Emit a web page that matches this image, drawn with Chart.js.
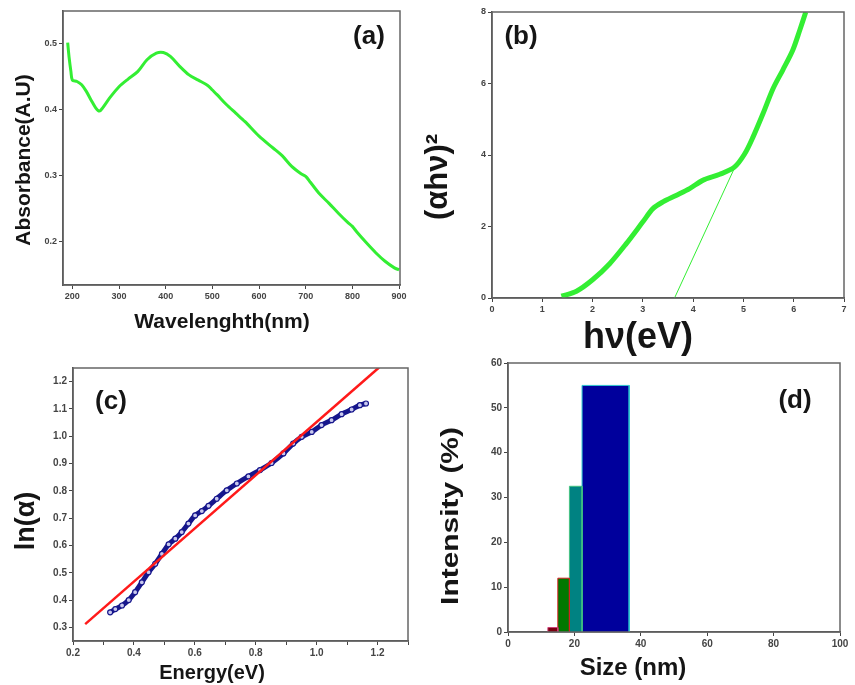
<!DOCTYPE html>
<html>
<head>
<meta charset="utf-8">
<script src="https://cdn.jsdelivr.net/npm/chart.js@4.4.1/dist/chart.umd.min.js"></script>
<style>
  body { margin: 0; background: #fff; }
  #wrap { position: relative; width: 855px; height: 685px; }
  #wrap canvas { position: absolute; left: 0; top: 0; }
</style>
</head>
<body>
<div id="wrap">
  <canvas id="chartA" width="855" height="685"></canvas>
  <canvas id="chartB" width="855" height="685"></canvas>
  <canvas id="chartC" width="855" height="685"></canvas>
  <canvas id="chartD" width="855" height="685"></canvas>
</div>
<script>
// (a) absorbance spectrum
const wavelength = [190, 193, 197, 200, 210, 220, 230, 240, 250, 258, 265, 280, 300, 320, 340, 360, 380, 395, 410, 430, 450, 470, 490, 500, 510, 530, 550, 570, 600, 630, 650, 670, 690, 700, 710, 730, 750, 770, 790, 800, 810, 830, 850, 870, 890, 900];
const absorbance = [0.502, 0.48, 0.458, 0.445, 0.443, 0.438, 0.428, 0.415, 0.403, 0.398, 0.403, 0.418, 0.435, 0.447, 0.458, 0.476, 0.486, 0.487, 0.481, 0.466, 0.453, 0.445, 0.437, 0.43, 0.423, 0.408, 0.395, 0.382, 0.36, 0.342, 0.33, 0.314, 0.303, 0.299, 0.29, 0.272, 0.258, 0.243, 0.229, 0.223, 0.214, 0.198, 0.183, 0.17, 0.16, 0.157];
const aXTicks = [200, 300, 400, 500, 600, 700, 800, 900];
const aYTicks = [0.2, 0.3, 0.4, 0.5];

// (b) Tauc plot
const photonE = [1.38, 1.68, 2.0, 2.34, 2.67, 3.0, 3.2, 3.4, 3.66, 3.93, 4.19, 4.53, 4.82, 5.02, 5.19, 5.39, 5.59, 5.78, 5.98, 6.12, 6.24];
const tauc = [0.05, 0.19, 0.51, 0.96, 1.52, 2.13, 2.5, 2.69, 2.87, 3.06, 3.29, 3.46, 3.66, 4.02, 4.5, 5.16, 5.86, 6.37, 6.93, 7.49, 8.0];
const tangentX = [3.63, 4.85];
const tangentY = [0, 3.72];
const bXTicks = [0, 1, 2, 3, 4, 5, 6, 7];
const bYTicks = [0, 2, 4, 6, 8];

// (c) ln(alpha) vs energy
const energy = [0.322, 0.339, 0.361, 0.383, 0.404, 0.426, 0.448, 0.47, 0.492, 0.514, 0.536, 0.557, 0.579, 0.601, 0.623, 0.645, 0.672, 0.705, 0.738, 0.776, 0.814, 0.852, 0.891, 0.923, 0.951, 0.984, 1.016, 1.049, 1.082, 1.115, 1.142, 1.162];
const lnAlpha = [0.355, 0.367, 0.38, 0.4, 0.429, 0.465, 0.502, 0.533, 0.569, 0.604, 0.625, 0.649, 0.68, 0.71, 0.726, 0.745, 0.771, 0.802, 0.827, 0.853, 0.876, 0.902, 0.937, 0.973, 0.998, 1.016, 1.041, 1.059, 1.081, 1.098, 1.114, 1.12];
const fitX = [0.24, 1.205];
const fitY = [0.312, 1.252];
const cXTicks = [0.2, 0.3, 0.4, 0.5, 0.6, 0.7, 0.8, 0.9, 1.0, 1.1, 1.2, 1.3];
const cYTicks = [0.3, 0.4, 0.5, 0.6, 0.7, 0.8, 0.9, 1.0, 1.1, 1.2];

// (d) size distribution
const binEdges = [12, 15, 18.5, 22.3, 36.5];
const binIntensity = [1, 12, 32.5, 55];
const binFill = ['#7a0010', '#007800', '#008282', '#00009c'];
const binBorder = ['#d0407a', '#d02020', '#40c080', '#30c8d0'];
const dXTicks = [0, 20, 40, 60, 80, 100];
const dYTicks = [0, 10, 20, 30, 40, 50, 60];

const GREEN = '#33ee33';
const tickFont = { family: 'Liberation Sans', size: 9, weight: 'bold' };

const panelText = {
  id: 'panelText',
  afterDraw(chart, args, opts) {
    const ctx = chart.ctx;
    (opts.items || []).forEach(t => {
      ctx.save();
      ctx.translate(t.x, t.y);
      if (t.rot) ctx.rotate(t.rot * Math.PI / 180);
      if (t.sx) ctx.scale(t.sx, 1);
      ctx.font = t.font;
      ctx.fillStyle = '#151515';
      ctx.textAlign = 'center';
      ctx.textBaseline = 'middle';
      ctx.fillText(t.text, 0, 0);
      ctx.restore();
    });
  }
};

const frame = {
  id: 'frame',
  afterDatasetsDraw(chart, args, opts) {
    const a = chart.chartArea, ctx = chart.ctx;
    ctx.save();
    ctx.strokeStyle = opts.color || '#666';
    ctx.lineWidth = 1.5;
    ctx.strokeRect(a.left, a.top, a.right - a.left, a.bottom - a.top);
    ctx.restore();
  }
};

function pts(xs, ys) {
  return xs.map((x, i) => ({ x: x, y: ys[i] }));
}

// axis boxes have a fixed size so the plot area sits where the layout padding puts it
const Y_W = 40, X_H = 20;

function axis(min, max, ticks, isX, fmt, size) {
  return {
    type: 'linear',
    min: min,
    max: max,
    afterFit: s => { if (isX) s.height = X_H; else s.width = Y_W; },
    afterBuildTicks: s => { s.ticks = ticks.map(v => ({ value: v })); },
    grid: { display: true, drawOnChartArea: false, drawTicks: true, tickLength: 4, color: '#444' },
    border: { display: true, color: '#444', width: 1.5 },
    ticks: {
      autoSkip: false,
      maxRotation: 0,
      padding: 2,
      color: '#444',
      font: Object.assign({}, tickFont, { size: size || 9 }),
      callback: fmt || (v => v)
    }
  };
}

// area = plot box in page pixels: [left, top, right, bottom]
function makeChart(id, area, datasets, scales, items) {
  const pad = { left: area[0] - Y_W, top: area[1], right: 855 - area[2], bottom: 685 - area[3] - X_H };
  return new Chart(document.getElementById(id), {
    type: 'scatter',
    data: { datasets: datasets },
    options: {
      responsive: false,
      animation: false,
      devicePixelRatio: 1,
      layout: { padding: pad },
      scales: scales,
      plugins: {
        legend: { display: false },
        tooltip: { enabled: false },
        panelText: { items: items },
        frame: { color: '#666' }
      }
    },
    plugins: [panelText, frame]
  });
}

// (a)
makeChart('chartA', [63, 11, 400, 285], [{
  data: pts(wavelength, absorbance),
  showLine: true, borderColor: GREEN, borderWidth: 3, pointRadius: 0, tension: 0.3
}], {
  x: axis(180, 902, aXTicks, true),
  y: axis(0.134, 0.55, aYTicks, false, v => v.toFixed(1))
}, [
  { text: '(a)', x: 369, y: 37, font: 'bold 26px "Liberation Sans"' },
  { text: 'Wavelenghth(nm)', x: 222, y: 322, font: 'bold 21px "Liberation Sans"' },
  { text: 'Absorbance(A.U)', x: 24, y: 160, rot: -90, font: 'bold 21px "Liberation Sans"' }
]);

// (b)
makeChart('chartB', [492, 12, 844, 298], [{
  data: pts(photonE, tauc),
  showLine: true, borderColor: GREEN, borderWidth: 5, pointRadius: 0, tension: 0.3
}, {
  data: pts(tangentX, tangentY),
  showLine: true, borderColor: GREEN, borderWidth: 1, pointRadius: 0
}], {
  x: axis(0, 7, bXTicks, true),
  y: axis(0, 8, bYTicks, false)
}, [
  { text: '(b)', x: 521, y: 37, font: 'bold 26px "Liberation Sans"' },
  { text: 'h\u03bd(eV)', x: 638, y: 338, font: 'bold 36px "Liberation Sans"' },
  { text: '(\u03b1h\u03bd)\u00b2', x: 438, y: 177, rot: -90, font: 'bold 31px "Liberation Sans"' }
]);

// (c)
makeChart('chartC', [73, 368, 408, 641], [{
  data: pts(fitX, fitY),
  showLine: true, borderColor: '#ff1a1a', borderWidth: 2.5, pointRadius: 0
}, {
  data: pts(energy, lnAlpha),
  showLine: true, borderColor: '#16168c', borderWidth: 5, tension: 0.3,
  pointRadius: 2.5, pointBorderWidth: 1.2, pointBorderColor: '#16168c', pointBackgroundColor: '#c8c8ee'
}], {
  x: axis(0.2, 1.3, cXTicks, true, v => (Math.round(v * 10) % 2 === 0 ? v.toFixed(1) : ''), 10),
  y: axis(0.25, 1.25, cYTicks, false, v => v.toFixed(1), 10)
}, [
  { text: '(c)', x: 111, y: 402, font: 'bold 26px "Liberation Sans"' },
  { text: 'Energy(eV)', x: 212, y: 673, font: 'bold 20px "Liberation Sans"' },
  { text: 'ln(\u03b1)', x: 27, y: 521, rot: -90, font: 'bold 27px "Liberation Sans"' }
]);

// (d)
const bins = binIntensity.map((h, i) => ({
  data: pts([binEdges[i], binEdges[i], binEdges[i + 1], binEdges[i + 1]], [0, h, h, 0]),
  showLine: true, fill: 'origin', backgroundColor: binFill[i], borderColor: binBorder[i],
  borderWidth: 1, pointRadius: 0
}));
makeChart('chartD', [508, 363, 840, 632], bins, {
  x: axis(0, 100, dXTicks, true, null, 10),
  y: axis(0, 60, dYTicks, false, null, 10)
}, [
  { text: '(d)', x: 795, y: 401, font: 'bold 26px "Liberation Sans"' },
  { text: 'Size (nm)', x: 633, y: 668, font: 'bold 24px "Liberation Sans"' },
  { text: 'Intensity (%)', x: 452, y: 516, rot: -90, sx: 1.3, font: 'bold 23px "Liberation Sans"' }
]);
</script>
</body>
</html>
